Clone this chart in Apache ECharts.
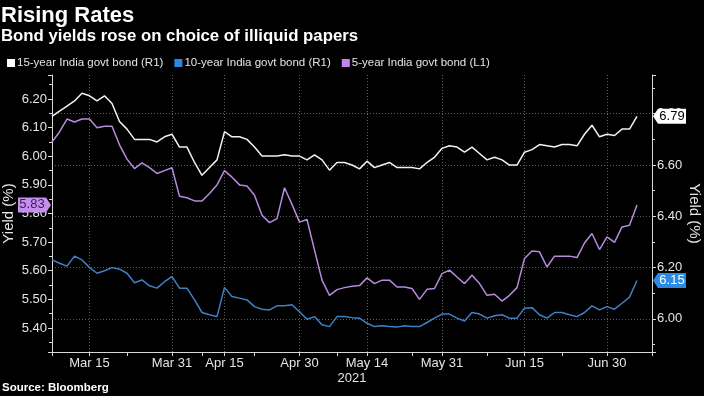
<!DOCTYPE html>
<html>
<head>
<meta charset="utf-8">
<script src="https://cdn.jsdelivr.net/npm/echarts@6/dist/echarts.min.js"></script>
<style>
  html, body { margin: 0; padding: 0; background: #000; }
  #chart { width: 704px; height: 396px; }
</style>
</head>
<body>
<div id="chart"></div>
<script>
// trading days (last two are empty padding on the axis)
var dates = [
  'Mar 5', 'Mar 8', 'Mar 9', 'Mar 10', 'Mar 12', 'Mar 15', 'Mar 16', 'Mar 17', 'Mar 18', 'Mar 19',
  'Mar 22', 'Mar 23', 'Mar 24', 'Mar 25', 'Mar 26', 'Mar 30', 'Mar 31', 'Apr 5', 'Apr 6', 'Apr 7',
  'Apr 8', 'Apr 9', 'Apr 12', 'Apr 15', 'Apr 16', 'Apr 19', 'Apr 20', 'Apr 22', 'Apr 23', 'Apr 26',
  'Apr 27', 'Apr 28', 'Apr 29', 'Apr 30', 'May 3', 'May 4', 'May 5', 'May 6', 'May 7', 'May 10',
  'May 11', 'May 12', 'May 14', 'May 17', 'May 18', 'May 19', 'May 20', 'May 21', 'May 24', 'May 25',
  'May 27', 'May 28', 'May 31', 'Jun 1', 'Jun 2', 'Jun 3', 'Jun 4', 'Jun 7', 'Jun 8', 'Jun 9',
  'Jun 10', 'Jun 11', 'Jun 14', 'Jun 15', 'Jun 16', 'Jun 17', 'Jun 18', 'Jun 21', 'Jun 22', 'Jun 23',
  'Jun 24', 'Jun 25', 'Jun 28', 'Jun 29', 'Jun 30', 'Jul 1', 'Jul 2', 'Jul 5', 'Jul 6', 'Jul 7',
  'Jul 8'
];
// which category indexes get a label / a tick
var labelDays = ['Mar 15', 'Mar 31', 'Apr 15', 'Apr 30', 'May 14', 'May 31', 'Jun 15', 'Jun 30'];
var tickDays = ['Mar 5', 'Mar 15', 'Mar 22', 'Mar 31', 'Apr 8', 'Apr 15', 'Apr 22', 'Apr 30', 'May 7',
  'May 14', 'May 24', 'May 31', 'Jun 8', 'Jun 15', 'Jun 22', 'Jun 30', 'Jul 8'];

// 15-year India govt bond (R1)
var bond15 = [
  6.79, 6.81, 6.83, 6.85, 6.88, 6.87, 6.85, 6.87, 6.84, 6.77,
  6.74, 6.70, 6.70, 6.70, 6.69, 6.71, 6.72, 6.67, 6.67, 6.61,
  6.56, 6.59, 6.62, 6.73, 6.71, 6.71, 6.70, 6.67, 6.635, 6.635,
  6.635, 6.64, 6.635, 6.635, 6.62, 6.64, 6.62, 6.58, 6.61, 6.61,
  6.60, 6.585, 6.615, 6.59, 6.60, 6.61, 6.59, 6.59, 6.59, 6.585,
  6.61, 6.63, 6.665, 6.675, 6.67, 6.65, 6.67, 6.645, 6.62, 6.63,
  6.62, 6.60, 6.60, 6.65, 6.66, 6.68, 6.675, 6.67, 6.68, 6.68,
  6.675, 6.72, 6.755, 6.71, 6.72, 6.715, 6.74, 6.74, 6.79
];
// 10-year India govt bond (R1)
var bond10 = [
  6.23, 6.217, 6.206, 6.245, 6.23, 6.20, 6.178, 6.188, 6.20, 6.194,
  6.178, 6.141, 6.152, 6.129, 6.12, 6.145, 6.165, 6.12, 6.12, 6.074,
  6.025, 6.016, 6.009, 6.123, 6.087, 6.081, 6.074, 6.048, 6.038, 6.035,
  6.051, 6.051, 6.055, 6.028, 5.999, 6.009, 5.977, 5.97, 6.009, 6.009,
  6.005, 6.003, 5.983, 5.97, 5.973, 5.97, 5.968, 5.973, 5.97, 5.97,
  5.986, 6.003, 6.019, 6.019, 6.003, 5.992, 6.025, 6.019, 6.003, 6.012,
  6.016, 6.003, 6.003, 6.042, 6.044, 6.016, 6.003, 6.025, 6.025, 6.016,
  6.009, 6.025, 6.051, 6.035, 6.048, 6.038, 6.061, 6.085, 6.15
];
// 5-year India govt bond (L1)
var bond5 = [
  6.05, 6.085, 6.13, 6.12, 6.13, 6.13, 6.10, 6.105, 6.105, 6.04,
  5.99, 5.957, 5.977, 5.96, 5.94, 5.95, 5.96, 5.86, 5.855, 5.844,
  5.844, 5.87, 5.90, 5.95, 5.927, 5.90, 5.896, 5.864, 5.794, 5.768,
  5.782, 5.89, 5.832, 5.77, 5.779, 5.672, 5.567, 5.514, 5.534, 5.541,
  5.546, 5.548, 5.575, 5.555, 5.567, 5.567, 5.543, 5.543, 5.538, 5.50,
  5.535, 5.538, 5.59, 5.602, 5.578, 5.555, 5.584, 5.555, 5.514, 5.518,
  5.494, 5.514, 5.541, 5.643, 5.669, 5.666, 5.613, 5.651, 5.651, 5.651,
  5.646, 5.697, 5.73, 5.674, 5.718, 5.699, 5.753, 5.759, 5.83
];

var FONT = 'Liberation Sans, Arial, sans-serif';
var TXT = '#e4e4e4';

var chart = echarts.init(document.getElementById('chart'));

var option = {
  backgroundColor: '#000',
  animation: false,
  title: [
    { text: 'Rising Rates', left: 1, top: 5, padding: 0,
      textStyle: { color: '#fff', fontSize: 22, fontWeight: 'bold', fontFamily: FONT } },
    { text: 'Bond yields rose on choice of illiquid papers', left: 1, top: 28, padding: 0,
      textStyle: { color: '#fff', fontSize: 16.8, fontWeight: 'bold', fontFamily: FONT } },
    { text: 'Source: Bloomberg', left: 2, top: 382, padding: 0,
      textStyle: { color: '#fff', fontSize: 11.5, fontWeight: 'bold', fontFamily: FONT } }
  ],
  legend: {
    left: 2, top: 52,
    icon: 'rect', itemWidth: 8, itemHeight: 8, itemGap: 11,
    textStyle: { color: TXT, fontSize: 11.5, fontFamily: FONT, padding: [0, 0, 0, -3] },
    data: [
      { name: '15-year India govt bond (R1)', itemStyle: { color: '#ffffff' } },
      { name: '10-year India govt bond (R1)', itemStyle: { color: '#2e86de' } },
      { name: '5-year India govt bond (L1)', itemStyle: { color: '#c582ee' } }
    ]
  },
  grid: { left: 52, right: 52, top: 75, bottom: 44, containLabel: false, outerBoundsMode: 'none' },
  xAxis: {
    type: 'category',
    data: dates,
    boundaryGap: false,
    name: '2021',
    nameLocation: 'middle',
    nameGap: 20,
    nameMoveOverlap: false,
    nameTextStyle: { color: TXT, fontSize: 13, fontFamily: FONT },
    axisLine: { lineStyle: { color: '#d8d8d8', width: 1 } },
    axisTick: {
      length: 4, lineStyle: { color: '#d8d8d8' },
      interval: function (i) { return tickDays.indexOf(dates[i]) >= 0; }
    },
    axisLabel: {
      color: TXT, fontSize: 13, fontFamily: FONT, margin: 5,
      interval: function (i) { return labelDays.indexOf(dates[i]) >= 0; }
    },
    splitLine: {
      show: true,
      lineStyle: { color: '#5c5c5c', type: [1, 2], width: 1 },
      interval: function (i) { return labelDays.indexOf(dates[i]) >= 0; }
    }
  },
  yAxis: [
    {
      type: 'value', position: 'left',
      min: 5.316, max: 6.284, minInterval: 0.1, maxInterval: 0.1,
      name: 'Yield (%)', nameLocation: 'middle', nameGap: 36, nameMoveOverlap: false,
      nameTextStyle: { color: TXT, fontSize: 15, fontFamily: FONT },
      axisLine: { show: true, lineStyle: { color: '#d8d8d8' } },
      axisTick: { show: true, length: 4, lineStyle: { color: '#d8d8d8' } },
      minorTick: { show: true, splitNumber: 2, length: 3, lineStyle: { color: '#d8d8d8' } },
      axisLabel: {
        color: TXT, fontSize: 13, fontFamily: FONT, margin: 5,
        showMinLabel: false, showMaxLabel: false,
        formatter: function (v) { return v.toFixed(2); }
      },
      splitLine: { show: false }
    },
    {
      type: 'value', position: 'right',
      min: 5.871, max: 6.951, minInterval: 0.2, maxInterval: 0.2,
      name: 'Yield (%)', nameLocation: 'middle', nameGap: 35, nameRotate: -90, nameMoveOverlap: false,
      nameTextStyle: { color: TXT, fontSize: 15, fontFamily: FONT },
      axisLine: { show: true, lineStyle: { color: '#d8d8d8' } },
      axisTick: { show: true, length: 4, lineStyle: { color: '#d8d8d8' } },
      minorTick: { show: true, splitNumber: 2, length: 3, lineStyle: { color: '#d8d8d8' } },
      axisLabel: {
        color: TXT, fontSize: 13, fontFamily: FONT, margin: 5,
        showMinLabel: false, showMaxLabel: false,
        formatter: function (v) { return v.toFixed(2); }
      },
      splitLine: {
        show: true, showMinLine: false, showMaxLine: false,
        lineStyle: { color: '#5c5c5c', type: [1, 2], width: 1 }
      }
    }
  ],
  series: [
    {
      name: '15-year India govt bond (R1)', type: 'line', yAxisIndex: 1,
      data: bond15, showSymbol: false, color: '#f2f2f2',
      lineStyle: { width: 1.5 }, z: 3
    },
    {
      name: '10-year India govt bond (R1)', type: 'line', yAxisIndex: 1,
      data: bond10, showSymbol: false, color: '#3f80c6',
      lineStyle: { width: 1.5 }, z: 2
    },
    {
      name: '5-year India govt bond (L1)', type: 'line', yAxisIndex: 0,
      data: bond5, showSymbol: false, color: '#b78ade',
      lineStyle: { width: 1.5 }, z: 2
    }
  ]
};

chart.setOption(option);

// last-value tags on the axes, placed through the chart's own scales
function tag(x, y, dir, text, bg, fg) {
  var w = 33, h = 15, a = 5;
  var x0 = x + dir;
  var pts = [
    [x0, y], [x0 + dir * a, y - h / 2], [x0 + dir * w, y - h / 2],
    [x0 + dir * w, y + h / 2], [x0 + dir * a, y + h / 2]
  ];
  return [
    { type: 'polygon', z: 100, shape: { points: pts }, style: { fill: bg } },
    { type: 'text', z: 101, x: x0 + dir * (a + (w - a) / 2), y: y,
      style: { text: text, fill: fg, font: '13px ' + FONT, align: 'center', verticalAlign: 'middle' } }
  ];
}

var xLeft = chart.convertToPixel({ xAxisIndex: 0 }, 0);
var xRight = chart.convertToPixel({ xAxisIndex: 0 }, dates.length - 1);
var last15 = bond15[bond15.length - 1];
var last10 = bond10[bond10.length - 1];
var last5 = bond5[bond5.length - 1];

chart.setOption({
  graphic: [].concat(
    tag(xRight, chart.convertToPixel({ yAxisIndex: 1 }, last15), 1, last15.toFixed(2), '#ffffff', '#000000'),
    tag(xRight, chart.convertToPixel({ yAxisIndex: 1 }, last10), 1, last10.toFixed(2), '#2a8ae6', '#ffffff'),
    tag(xLeft, chart.convertToPixel({ yAxisIndex: 0 }, last5), -1, last5.toFixed(2), '#c58ff0', '#3a1d55')
  )
});

window.addEventListener('resize', function () { chart.resize(); });
</script>
</body>
</html>
